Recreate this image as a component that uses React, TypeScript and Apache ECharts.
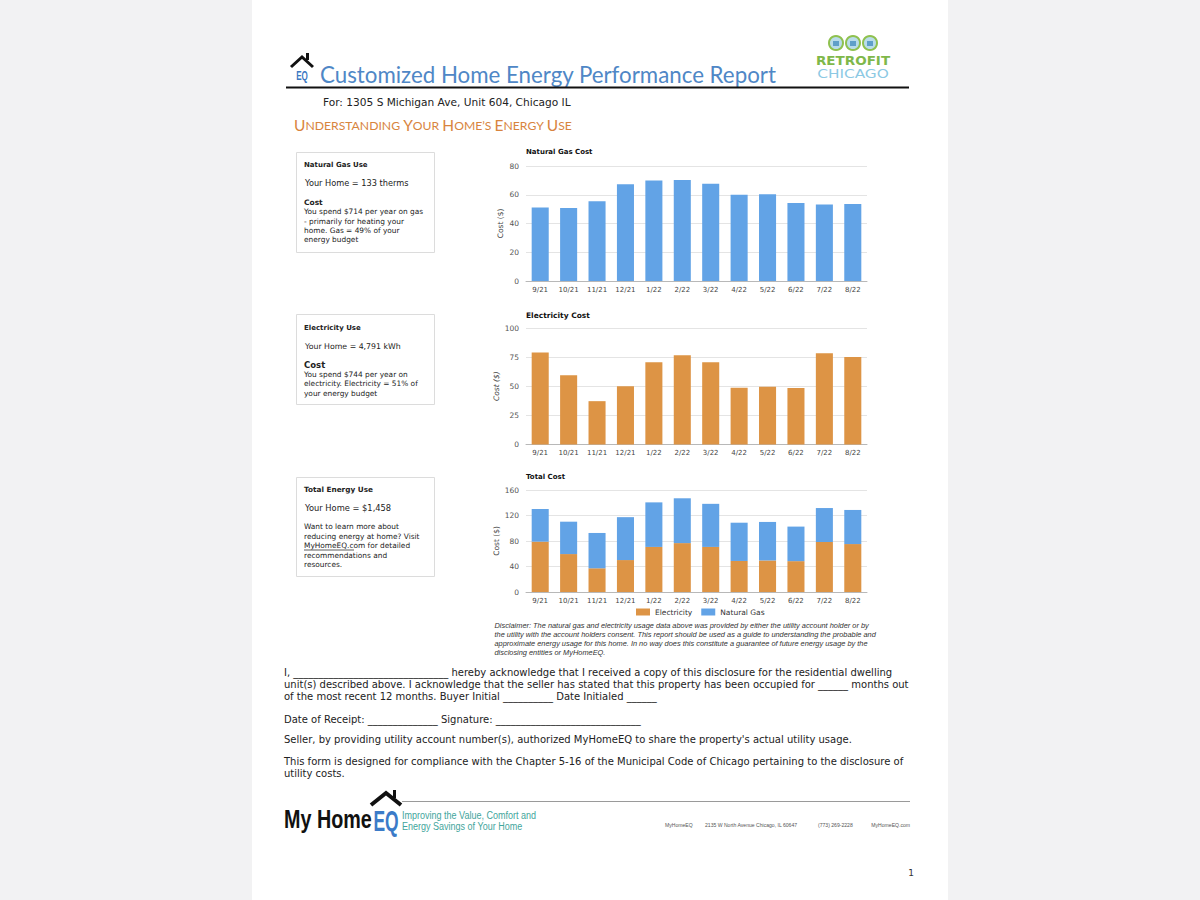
import React, { useEffect, useRef } from "react";
import * as echarts from "echarts";

const months = ["9/21", "10/21", "11/21", "12/21", "1/22", "2/22", "3/22", "4/22", "5/22", "6/22", "7/22", "8/22"];
const gasCost = [51.2, 50.8, 55.4, 67.3, 69.9, 70.3, 67.6, 60.0, 60.4, 54.2, 53.3, 53.5];
const elecCost = [79.0, 59.5, 37.2, 50.1, 70.7, 76.7, 70.7, 48.7, 49.5, 48.4, 78.4, 75.2];
const gasAxis = { min: 0, max: 80, interval: 20 };
const elecAxis = { min: 0, max: 100, interval: 25 };
const totalAxis = { min: 0, max: 160, interval: 40 };
const legendNames = ["Electricity", "Natural Gas"];

const GAS = "#62a3e6";
const ELEC = "#dd9445";
const F = "DejaVu Sans";
const ARIAL = "Liberation Sans";

type TO = { size?: number; weight?: string; style?: string; family?: string; color?: string; align?: string; sx?: number };
function txt(text: string, x: number, y: number, o: TO = {}) {
  return {
    type: "text",
    x,
    y,
    scaleX: o.sx ?? 1,
    silent: true,
    style: {
      text,
      fontSize: o.size ?? 8,
      fontWeight: o.weight ?? "normal",
      fontStyle: o.style ?? "normal",
      fontFamily: o.family ?? F,
      fill: o.color ?? "#222",
      textAlign: o.align ?? "left",
      textVerticalAlign: "middle",
    },
  };
}
function box(x: number, y: number, w: number, h: number) {
  return { type: "rect", shape: { x, y, width: w, height: h }, style: { fill: "#fff", stroke: "#dcdcdc", lineWidth: 1 }, silent: true };
}

function buildGraphics() {
  const g: any[] = [];
  g.push({ type: "rect", z: -10, shape: { x: 252, y: 0, width: 696, height: 900 }, style: { fill: "#ffffff" }, silent: true });

  // header logo (house + EQ)
  g.push({ type: "polyline", shape: { points: [[291, 67], [302, 57], [313, 67]] }, style: { stroke: "#111", lineWidth: 3, fill: null }, silent: true });
  g.push({ type: "rect", shape: { x: 306, y: 53, width: 3, height: 7 }, style: { fill: "#111" }, silent: true });
  g.push(txt("EQ", 302, 75, { size: 13, weight: "bold", family: ARIAL, color: "#3b78c2", align: "center", sx: 0.62 }));
  g.push(txt("Customized Home Energy Performance Report", 320, 74, { size: 22.3, family: "Lato", color: "#4f87c6" }));
  g.push({ type: "line", shape: { x1: 286, y1: 87.5, x2: 909, y2: 87.5 }, style: { stroke: "#111", lineWidth: 2 }, silent: true });

  // Retrofit Chicago logo
  [836, 853, 870].forEach((cx) => {
    g.push({ type: "circle", shape: { cx, cy: 43, r: 7 }, style: { fill: "#b9dcea", stroke: "#8fc14f", lineWidth: 2 }, silent: true });
    g.push({ type: "rect", shape: { x: cx - 3, y: 41, width: 6, height: 5 }, style: { fill: "#5f9fc9" }, silent: true });
  });
  g.push(txt("RETROFIT", 853, 61, { size: 13, weight: "bold", color: "#7fb84a", align: "center", sx: 1.04 }));
  g.push(txt("CHICAGO", 853, 73, { size: 13, color: "#8cc9e4", align: "center", sx: 1.18 }));

  g.push(txt("For: 1305 S Michigan Ave, Unit 604, Chicago IL", 323, 102, { size: 10.6, color: "#222" }));
  g.push({
    type: "text",
    x: 294,
    y: 125,
    silent: true,
    style: {
      text: "{b|U}{s|NDERSTANDING }{b|Y}{s|OUR }{b|H}{s|OME\u2019S }{b|E}{s|NERGY }{b|U}{s|SE}",
      textVerticalAlign: "middle",
      rich: {
        b: { fontSize: 15.5, fontFamily: "Lato", fill: "#d8843e", color: "#d8843e" },
        s: { fontSize: 12.2, fontFamily: "Lato", fill: "#d8843e", color: "#d8843e" },
      },
    },
  });

  // Box 1
  g.push(box(296.5, 152.5, 138, 100));
  g.push(txt("Natural Gas Use", 304, 165, { size: 7, weight: "bold" }));
  g.push(txt("Your Home = 133 therms", 305, 183, { size: 8.2 }));
  g.push(txt("Cost", 304, 202, { size: 7.5, weight: "bold" }));
  ["You spend $714 per year on gas", "- primarily for heating your", "home. Gas = 49% of your", "energy budget"].forEach((l, i) =>
    g.push(txt(l, 304, 211.7 + i * 9.4, { size: 7.4 }))
  );
  // Box 2
  g.push(box(296.5, 314.5, 138, 90));
  g.push(txt("Electricity Use", 304, 327.5, { size: 7, weight: "bold" }));
  g.push(txt("Your Home = 4,791 kWh", 305, 346.5, { size: 7.8 }));
  g.push(txt("Cost", 304, 365, { size: 8.5, weight: "bold" }));
  ["You spend $744 per year on", "electricity. Electricity = 51% of", "your energy budget"].forEach((l, i) =>
    g.push(txt(l, 304, 374.5 + i * 9.3, { size: 7.4 }))
  );
  // Box 3
  g.push(box(296.5, 477.5, 138, 99));
  g.push(txt("Total Energy Use", 304, 489.5, { size: 7.3, weight: "bold" }));
  g.push(txt("Your Home = $1,458", 305, 507.5, { size: 8.3 }));
  ["Want to learn more about", "reducing energy at home? Visit", "MyHomeEQ.com for detailed", "recommendations and", "resources."].forEach((l, i) =>
    g.push(txt(l, 304, 526.5 + i * 9.5, { size: 7.4 }))
  );
  g.push({ type: "line", shape: { x1: 304, y1: 550, x2: 354, y2: 550 }, style: { stroke: "#333", lineWidth: 0.8 }, silent: true });

  // chart titles
  g.push(txt("Natural Gas Cost", 526, 152, { size: 7, weight: "bold", color: "#111" }));
  g.push(txt("Electricity Cost", 526, 315, { size: 7.5, weight: "bold", color: "#111" }));
  g.push(txt("Total Cost", 526, 477, { size: 7, weight: "bold", color: "#111" }));

  // disclaimer
  [
    "Disclaimer: The natural gas and electricity usage data above was provided by either the utility account holder or by",
    "the utility with the account holders consent. This report should be used as a guide to understanding the probable and",
    "approximate energy usage for this home. In no way does this constitute a guarantee of future energy usage by the",
    "disclosing entities or MyHomeEQ.",
  ].forEach((l, i) => g.push(txt(l, 494.5, 625 + i * 9.3, { size: 7.4, style: "italic", family: ARIAL, color: "#333" })));

  // body
  const body: [string, number][] = [
    ["I, _______________________________ hereby acknowledge that I received a copy of this disclosure for the residential dwelling", 672],
    ["unit(s) described above. I acknowledge that the seller has stated that this property has been occupied for ______ months out", 684],
    ["of the most recent 12 months. Buyer Initial __________ Date Initialed ______", 696],
    ["Date of Receipt: ______________ Signature: _____________________________", 719],
    ["Seller, by providing utility account number(s), authorized MyHomeEQ to share the property's actual utility usage.", 739],
    ["This form is designed for compliance with the Chapter 5-16 of the Municipal Code of Chicago pertaining to the disclosure of", 761],
    ["utility costs.", 773],
  ];
  body.forEach(([l, y]) => g.push(txt(l, 284, y, { size: 10, color: "#222" })));

  // footer
  g.push(txt("My Home", 284, 820, { size: 25, weight: "bold", family: ARIAL, color: "#111", sx: 0.79 }));
  g.push({ type: "polyline", shape: { points: [[371, 805], [386, 793], [401, 805]] }, style: { stroke: "#111", lineWidth: 4, fill: null }, silent: true });
  g.push({ type: "rect", shape: { x: 393, y: 790, width: 3, height: 8 }, style: { fill: "#111" }, silent: true });
  g.push(txt("EQ", 386, 821, { size: 30, weight: "bold", family: ARIAL, color: "#3b7bc8", align: "center", sx: 0.58 }));
  g.push({ type: "line", shape: { x1: 402, y1: 801.5, x2: 910, y2: 801.5 }, style: { stroke: "#9a9a9a", lineWidth: 1.2 }, silent: true });
  g.push(txt("Improving the Value, Comfort and", 402, 815, { size: 11, family: ARIAL, color: "#3fa59c", sx: 0.82 }));
  g.push(txt("Energy Savings of Your Home", 402, 826, { size: 11, family: ARIAL, color: "#3fa59c", sx: 0.82 }));
  const small: TO = { size: 6, family: ARIAL, color: "#555", sx: 0.85 };
  g.push(txt("MyHomeEQ", 665, 825, small));
  g.push(txt("2135 W North Avenue Chicago, IL 60647", 705, 825, small));
  g.push(txt("(773) 269-2228", 818, 825, small));
  g.push(txt("MyHomeEQ.com", 910, 825, { ...small, align: "right" }));
  g.push(txt("1", 911, 873, { size: 9, color: "#333", align: "center" }));
  return g;
}

function yAxisCfg(gridIndex: number, ax: { min: number; max: number; interval: number }, italic: boolean) {
  return {
    type: "value",
    gridIndex,
    min: ax.min,
    max: ax.max,
    interval: ax.interval,
    name: "Cost ($)",
    nameLocation: "middle",
    nameGap: 22,
    nameTextStyle: { fontSize: 7.5, color: "#444", fontFamily: F, fontStyle: italic ? "italic" : "normal" },
    axisLine: { show: false },
    axisTick: { show: false },
    axisLabel: { fontSize: 7.5, color: "#555", fontFamily: F, margin: 7 },
    splitLine: { lineStyle: { color: "#e4e4e4", width: 1 } },
  };
}
function xAxisCfg(gridIndex: number) {
  return {
    type: "category",
    gridIndex,
    data: months,
    axisLine: { lineStyle: { color: "#b8b8b8", width: 1 } },
    axisTick: { show: false },
    axisLabel: { fontSize: 7, color: "#444", fontFamily: F, margin: 5, interval: 0 },
  };
}

export default function App() {
  const ref = useRef<HTMLDivElement>(null);
  useEffect(() => {
    if (!ref.current) return;
    const chart = echarts.init(ref.current, undefined, { renderer: "svg" });
    chart.setOption({
      animation: false,
      backgroundColor: "#f2f2f3",
      grid: [
        { left: 526, top: 166, width: 341, height: 115 },
        { left: 526, top: 328, width: 341, height: 116.5 },
        { left: 526, top: 490, width: 341, height: 102 },
      ],
      xAxis: [xAxisCfg(0), xAxisCfg(1), xAxisCfg(2)],
      yAxis: [yAxisCfg(0, gasAxis, false), yAxisCfg(1, elecAxis, true), yAxisCfg(2, totalAxis, false)],
      legend: {
        data: legendNames,
        left: 631,
        top: 603,
        itemWidth: 14,
        itemHeight: 7,
        itemGap: 9,
        icon: "rect",
        textStyle: { fontSize: 7.5, color: "#333", fontFamily: F },
      },
      graphic: { elements: buildGraphics() },
      series: [
        { name: "Natural Gas Cost", type: "bar", xAxisIndex: 0, yAxisIndex: 0, data: gasCost, barWidth: "60%", itemStyle: { color: GAS } },
        { name: "Electricity Cost", type: "bar", xAxisIndex: 1, yAxisIndex: 1, data: elecCost, barWidth: "60%", itemStyle: { color: ELEC } },
        { name: legendNames[0], type: "bar", xAxisIndex: 2, yAxisIndex: 2, stack: "total", data: elecCost, barWidth: "60%", itemStyle: { color: ELEC } },
        { name: legendNames[1], type: "bar", xAxisIndex: 2, yAxisIndex: 2, stack: "total", data: gasCost, barWidth: "60%", itemStyle: { color: GAS } },
      ],
    });
    return () => chart.dispose();
  }, []);
  return <div ref={ref} style={{ position: "absolute", left: 0, top: 0, width: 1200, height: 900 }} />;
}
